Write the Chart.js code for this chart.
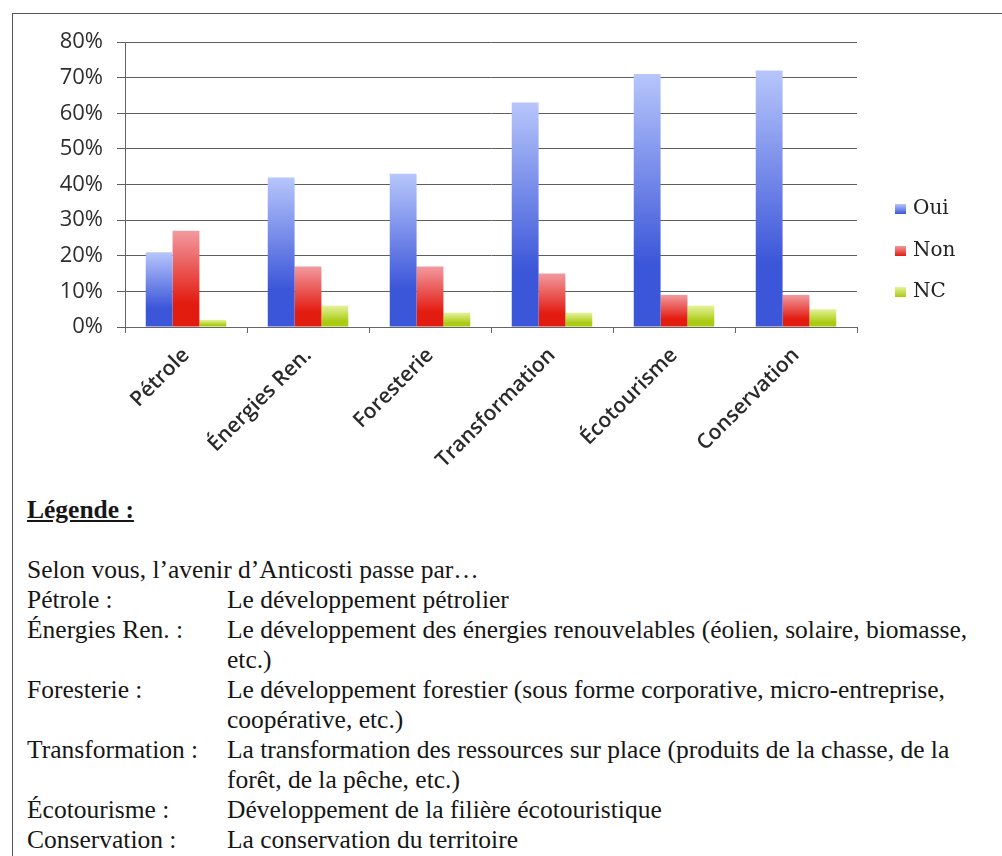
<!DOCTYPE html>
<html lang="fr">
<head>
<meta charset="utf-8">
<title>Avenir d'Anticosti</title>
<script src="https://cdn.jsdelivr.net/npm/chart.js@4.4.1/dist/chart.umd.min.js"></script>
<style>
  html, body { margin: 0; padding: 0; background: #fff; }
  body { width: 1002px; height: 856px; position: relative; overflow: hidden; }
  #cadre { position: absolute; left: 12px; top: 13px; width: 1100px; height: 1000px;
           border-top: 1px solid #555; border-left: 1px solid #555; }
  #graph { position: absolute; left: 0; top: 0; }
  #series { position: absolute; left: 895px; top: 193px; font-family: "DejaVu Serif", serif;
            font-size: 20px; color: #222; }
  #series div { height: 41.5px; line-height: 28px; white-space: nowrap; }
  #series span.box { display: inline-block; width: 11px; height: 10px; margin-right: 7px; vertical-align: 0; }
  #texte { position: absolute; left: 27px; top: 495px; font-family: "Liberation Serif", "Times New Roman", serif;
           font-size: 25.5px; line-height: 30px; color: #161616; }
  #texte .titre { font-weight: bold; text-decoration: underline; }
  #texte .ligne { display: flex; }
  #texte .ligne .cle { width: 200px; flex: none; }
</style>
</head>
<body>
<div id="cadre"></div>
<canvas id="graph" width="1002" height="470"></canvas>
<div id="series"></div>
<div id="texte">
  <div class="titre">Légende :</div>
  <div>&nbsp;</div>
  <div>Selon vous, l’avenir d’Anticosti passe par…</div>
  <div class="ligne"><div class="cle">Pétrole :</div><div>Le développement pétrolier</div></div>
  <div class="ligne"><div class="cle">Énergies Ren. :</div><div>Le développement des énergies renouvelables (éolien, solaire, biomasse,<br>etc.)</div></div>
  <div class="ligne"><div class="cle">Foresterie :</div><div>Le développement forestier (sous forme corporative, micro-entreprise,<br>coopérative, etc.)</div></div>
  <div class="ligne"><div class="cle">Transformation :</div><div>La transformation des ressources sur place (produits de la chasse, de la<br>forêt, de la pêche, etc.)</div></div>
  <div class="ligne"><div class="cle">Écotourisme :</div><div>Développement de la filière écotouristique</div></div>
  <div class="ligne"><div class="cle">Conservation :</div><div>La conservation du territoire</div></div>
</div>
<script>
// réponses en pourcentage par filière
const categories = ['Pétrole', 'Énergies Ren.', 'Foresterie', 'Transformation', 'Écotourisme', 'Conservation'];
const oui = [21, 42, 43, 63, 71, 72];
const non = [27, 17, 17, 15, 9, 9];
const nc = [2, 6, 4, 4, 6, 5];
const yMax = 80;
const yStep = 10;

// couleurs haut -> bas du dégradé de chaque série
const teintes = {
    Oui: ['#b7c6fb', '#3c56d9'],
    Non: ['#f29aa0', '#e31c10'],
    NC: ['#e6f29a', '#a9cb12'],
};

function degrade(ctx, nom) {
    const chart = ctx.chart;
    const t = teintes[nom];
    if (!chart.chartArea || ctx.type !== 'data') {
        return t[1];
    }
    const y = chart.scales.y;
    const haut = y.getPixelForValue(ctx.raw);
    const bas = y.getPixelForValue(0);
    const g = chart.ctx.createLinearGradient(0, haut, 0, bas);
    g.addColorStop(0, t[0]);
    g.addColorStop(0.75, t[1]);
    g.addColorStop(1, t[1]);
    return g;
}

function serie(nom, valeurs) {
    return {
        label: nom,
        data: valeurs,
        backgroundColor: (ctx) => degrade(ctx, nom),
        borderWidth: 0,
        categoryPercentage: 0.66,
        barPercentage: 1.0,
    };
}

const datasets = [serie('Oui', oui), serie('Non', non), serie('NC', nc)];

new Chart(document.getElementById('graph'), {
    type: 'bar',
    data: {labels: categories, datasets: datasets},
    options: {
        responsive: false,
        animation: false,
        layout: {padding: {top: 42, right: 145, bottom: 0, left: 0}},
        plugins: {
            legend: {display: false},
            tooltip: {enabled: false},
        },
        scales: {
            x: {
                offset: true,
                grid: {offset: true, drawOnChartArea: false, tickLength: 6, color: '#666'},
                border: {color: '#666'},
                ticks: {
                    minRotation: 45,
                    maxRotation: 45,
                    padding: 10,
                    color: '#2a2a2a',
                    font: {family: 'Open Sans', size: 21, weight: '600'},
                },
                afterFit: (s) => { s.height = 143; },
            },
            y: {
                min: 0,
                max: yMax,
                ticks: {
                    stepSize: yStep,
                    padding: 14,
                    color: '#2e2e2e',
                    font: {family: 'Open Sans', size: 22},
                    callback: (v) => v + '%',
                },
                grid: {color: '#5e5e5e', tickLength: 8},
                border: {color: '#666'},
                afterFit: (s) => { s.width = 125; },
            },
        },
    },
});

// légende des séries, à droite du graphique
const boite = document.getElementById('series');
datasets.forEach((d) => {
    const t = teintes[d.label];
    const ligne = document.createElement('div');
    const carre = document.createElement('span');
    carre.className = 'box';
    carre.style.background = 'linear-gradient(' + t[0] + ', ' + t[1] + ')';
    ligne.appendChild(carre);
    ligne.appendChild(document.createTextNode(d.label));
    boite.appendChild(ligne);
});
</script>
</body>
</html>
